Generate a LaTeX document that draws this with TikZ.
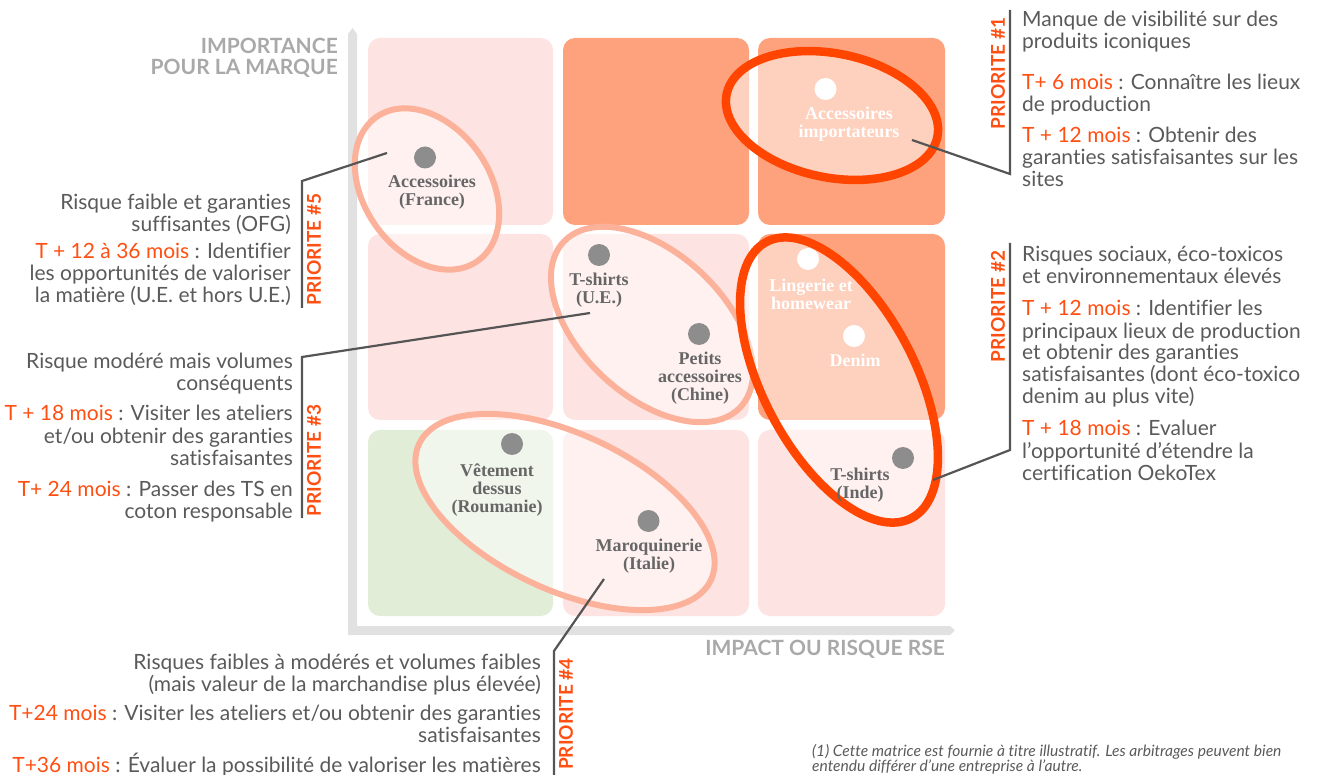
\documentclass[tikz,border=0pt]{standalone}
\usepackage{fontspec}
\setmainfont{Lato}[Ligatures={NoCommon,NoContextual}, Contextuals=NoAlternate]
\newfontfamily\labfont{Liberation Serif}
\usetikzlibrary{positioning}
\definecolor{txtgrey}{HTML}{5A5A5A}
\definecolor{hotorange}{HTML}{FF4F12}
\definecolor{ringred}{HTML}{FF4500}
\definecolor{ringlight}{HTML}{FCB29A}
\definecolor{cellpink}{HTML}{FDE3E1}
\definecolor{cellsalmon}{HTML}{FEA27E}
\definecolor{cellgreen}{HTML}{E1EDD7}
\definecolor{axisgrey}{HTML}{E1E1E1}
\definecolor{axistxt}{HTML}{A9A9A9}
\definecolor{dotgrey}{HTML}{8D8D8D}
\definecolor{labgrey}{HTML}{666666}
\definecolor{linegrey}{HTML}{555555}
\newcommand{\dl}[1]{\textcolor{hotorange}{#1}}

\begin{document}
\begin{tikzpicture}[x=1pt,y=-1pt,
	cell/.style={rounded corners=12pt},
	ring/.style={draw=ringlight, line width=6pt, fill=white, fill opacity=0.5},
	hotring/.style={draw=ringred, line width=8.5pt, fill=white, fill opacity=0.5},
	greydot/.style={circle, fill=dotgrey, minimum size=22pt, inner sep=0pt},
	whitedot/.style={circle, fill=white, minimum size=22pt, inner sep=0pt},
	lab/.style={font=\labfont\bfseries\fontsize{18}{18}\selectfont, text=labgrey, align=center, inner sep=0pt},
	whitelab/.style={lab, text=white},
	note/.style={font=\fontsize{21}{22}\selectfont, text=txtgrey, inner sep=0pt},
	noteL/.style={note, align=left, anchor=base west},
	noteR/.style={note, align=right, anchor=base east},
	prio/.style={font=\bfseries\fontsize{19}{19}\selectfont, text=hotorange, rotate=90, inner sep=0pt},
	axislab/.style={font=\bfseries\fontsize{21}{21}\selectfont, text=axistxt, inner sep=0pt},
	bracket/.style={draw=linegrey, line width=2.2pt},
	foot/.style={font=\itshape\fontsize{15.6}{15}\selectfont, text=txtgrey, align=left, anchor=base west, inner sep=0pt}]
		\useasboundingbox (0,0) rectangle (1323,775);
		% the nine cells
		\fill[cell, cellpink] (368,38) rectangle (553,225);
		\fill[cell, cellsalmon] (563,38) rectangle (749,225);
		\fill[cell, cellsalmon] (758,38) rectangle (945,225);
		\fill[cell, cellpink] (368,234) rectangle (553,420);
		\fill[cell, cellpink] (563,234) rectangle (749,420);
		\fill[cell, cellsalmon] (758,234) rectangle (945,420);
		\fill[cell, cellgreen] (368,430) rectangle (553,616);
		\fill[cell, cellpink] (563,430) rectangle (749,616);
		\fill[cell, cellpink] (758,430) rectangle (945,616);
		% axes
		\fill[axisgrey] (348,635) -- (348,34) -- (352.5,28) -- (357,34) -- (357,626) -- (950,626) -- (955,630.5) -- (950,635) -- cycle;
		\node[axislab, align=right, anchor=base east] (yaxis) at (338,75) {IMPORTANCE\\POUR LA MARQUE};
		\node[axislab, anchor=base east] (xaxis) at (945,655) {IMPACT OU RISQUE RSE};
		% groups
		\draw[ring, rotate around={-55:(427,189)}] (427,189) ellipse [x radius=88, y radius=63];
		\draw[hotring, rotate around={-11.5:(832,115.5)}] (832,115.5) ellipse [x radius=107.5, y radius=62];
		\draw[ring, rotate around={-43:(652,324.5)}] (652,324.5) ellipse [x radius=121, y radius=71.5];
		\draw[hotring, rotate around={-62.3:(839,380)}] (839,380) ellipse [x radius=156, y radius=76];
		\draw[ring, rotate around={-25:(565,512)}] (565,512) ellipse [x radius=161, y radius=78];
		% products
		\node[greydot] (dfr) at (425,157.5) {};
		\node[lab] (lfr) at (432,192.5) {Accessoires\\(France)};
		\node[whitedot] (dimp) at (825.5,89) {};
		\node[whitelab] (limp) at (849,124) {Accessoires\\importateurs};
		\node[greydot] (due) at (599,255) {};
		\node[lab] (lue) at (599,290) {T-shirts\\(U.E.)};
		\node[greydot] (dch) at (699,334) {};
		\node[lab] (lch) at (700,378) {Petits\\accessoires\\(Chine)};
		\node[whitedot] (dlin) at (808,259) {};
		\node[whitelab] (llin) at (811,294) {Lingerie et\\homewear};
		\node[whitedot] (dden) at (854,336) {};
		\node[whitelab] (lden) at (855,360) {Denim};
		\node[greydot] (din) at (903,458) {};
		\node[lab] (lin) at (860,485.5) {T-shirts\\(Inde)};
		\node[greydot] (dro) at (512,444) {};
		\node[lab] (lro) at (497,490) {Vêtement\\dessus\\(Roumanie)};
		\node[greydot] (dit) at (648.5,521) {};
		\node[lab] (lit) at (649,556) {Maroquinerie\\(Italie)};
		% brackets
		\coordinate (e5) at (387,153);
		\coordinate (c5) at (302,181);
		\coordinate (b5) at (302,308);
		\coordinate (e3) at (590,313);
		\coordinate (c3) at (302,357);
		\coordinate (b3) at (302,518);
		\coordinate (e1) at (912,140);
		\coordinate (c1) at (1010,174);
		\coordinate (b1) at (1010,10);
		\coordinate (e2) at (933,480);
		\coordinate (c2) at (1010,450);
		\coordinate (b2) at (1010,243);
		\coordinate (e4) at (604,579);
		\coordinate (c4) at (554,651);
		\coordinate (b4) at (554,790);
		\draw[bracket] (e5) -- (c5) -- (b5);
		\draw[bracket] (e3) -- (c3) -- (b3);
		\draw[bracket] (e1) -- (c1) -- (b1);
		\draw[bracket] (e2) -- (c2) -- (b2);
		\draw[bracket] (e4) -- (c4) -- (b4);
		\node[prio] (p5) at (314,249.5) {PRIORITE \#5};
		\node[prio] (p3) at (314,460.5) {PRIORITE \#3};
		\node[prio] (p1) at (998,73.5) {PRIORITE \#1};
		\node[prio] (p2) at (998,306.5) {PRIORITE \#2};
		\node[prio] (p4) at (566,714) {PRIORITE \#4};
		% notes
		\node[noteR] (t5a) at (291,232) {Risque faible et garanties\\suffisantes (OFG)};
		\node[noteR] (t5b) at (291,303) {\dl{T + 12 à 36 mois} : Identifier\\les opportunités de valoriser\\la matière (U.E. et hors U.E.)};
		\node[noteR] (t3a) at (293,391) {Risque modéré mais volumes\\conséquents};
		\node[noteR] (t3b) at (293,465) {\dl{T + 18 mois} : Visiter les ateliers\\et/ou obtenir des garanties\\satisfaisantes};
		\node[noteR] (t3c) at (293,518) {\dl{T+ 24 mois} : Passer des TS en\\coton responsable};
		\node[noteL] (t1a) at (1022,49) {Manque de visibilité sur des\\produits iconiques};
		\node[noteL] (t1b) at (1022,112) {\dl{T+ 6 mois} : Connaître les lieux\\de production};
		\node[noteL] (t1c) at (1022,187) {\dl{T + 12 mois} : Obtenir des\\garanties satisfaisantes sur les\\sites};
		\node[noteL] (t2a) at (1022,284) {Risques sociaux, éco-toxicos\\et environnementaux élevés};
		\node[noteL] (t2b) at (1022,404) {\dl{T + 12 mois} : Identifier les\\principaux lieux de production\\et obtenir des garanties\\satisfaisantes (dont éco-toxico\\denim au plus vite)};
		\node[noteL] (t2c) at (1022,480) {\dl{T + 18 mois} : Evaluer\\l’opportunité d’étendre la\\certification OekoTex};
		\node[noteR] (t4a) at (541,691) {Risques faibles à modérés et volumes faibles\\(mais valeur de la marchandise plus élevée)};
		\node[noteR] (t4b) at (541,742) {\dl{T+24 mois} : Visiter les ateliers et/ou obtenir des garanties\\satisfaisantes};
		\node[noteR] (t4c) at (541,772) {\dl{T+36 mois} : Évaluer la possibilité de valoriser les matières};
		\node[foot] (fn) at (812,771) {(1) Cette matrice est fournie à titre illustratif. Les arbitrages peuvent bien\\entendu différer d’une entreprise à l’autre.};
	\end{tikzpicture}
\end{document}
